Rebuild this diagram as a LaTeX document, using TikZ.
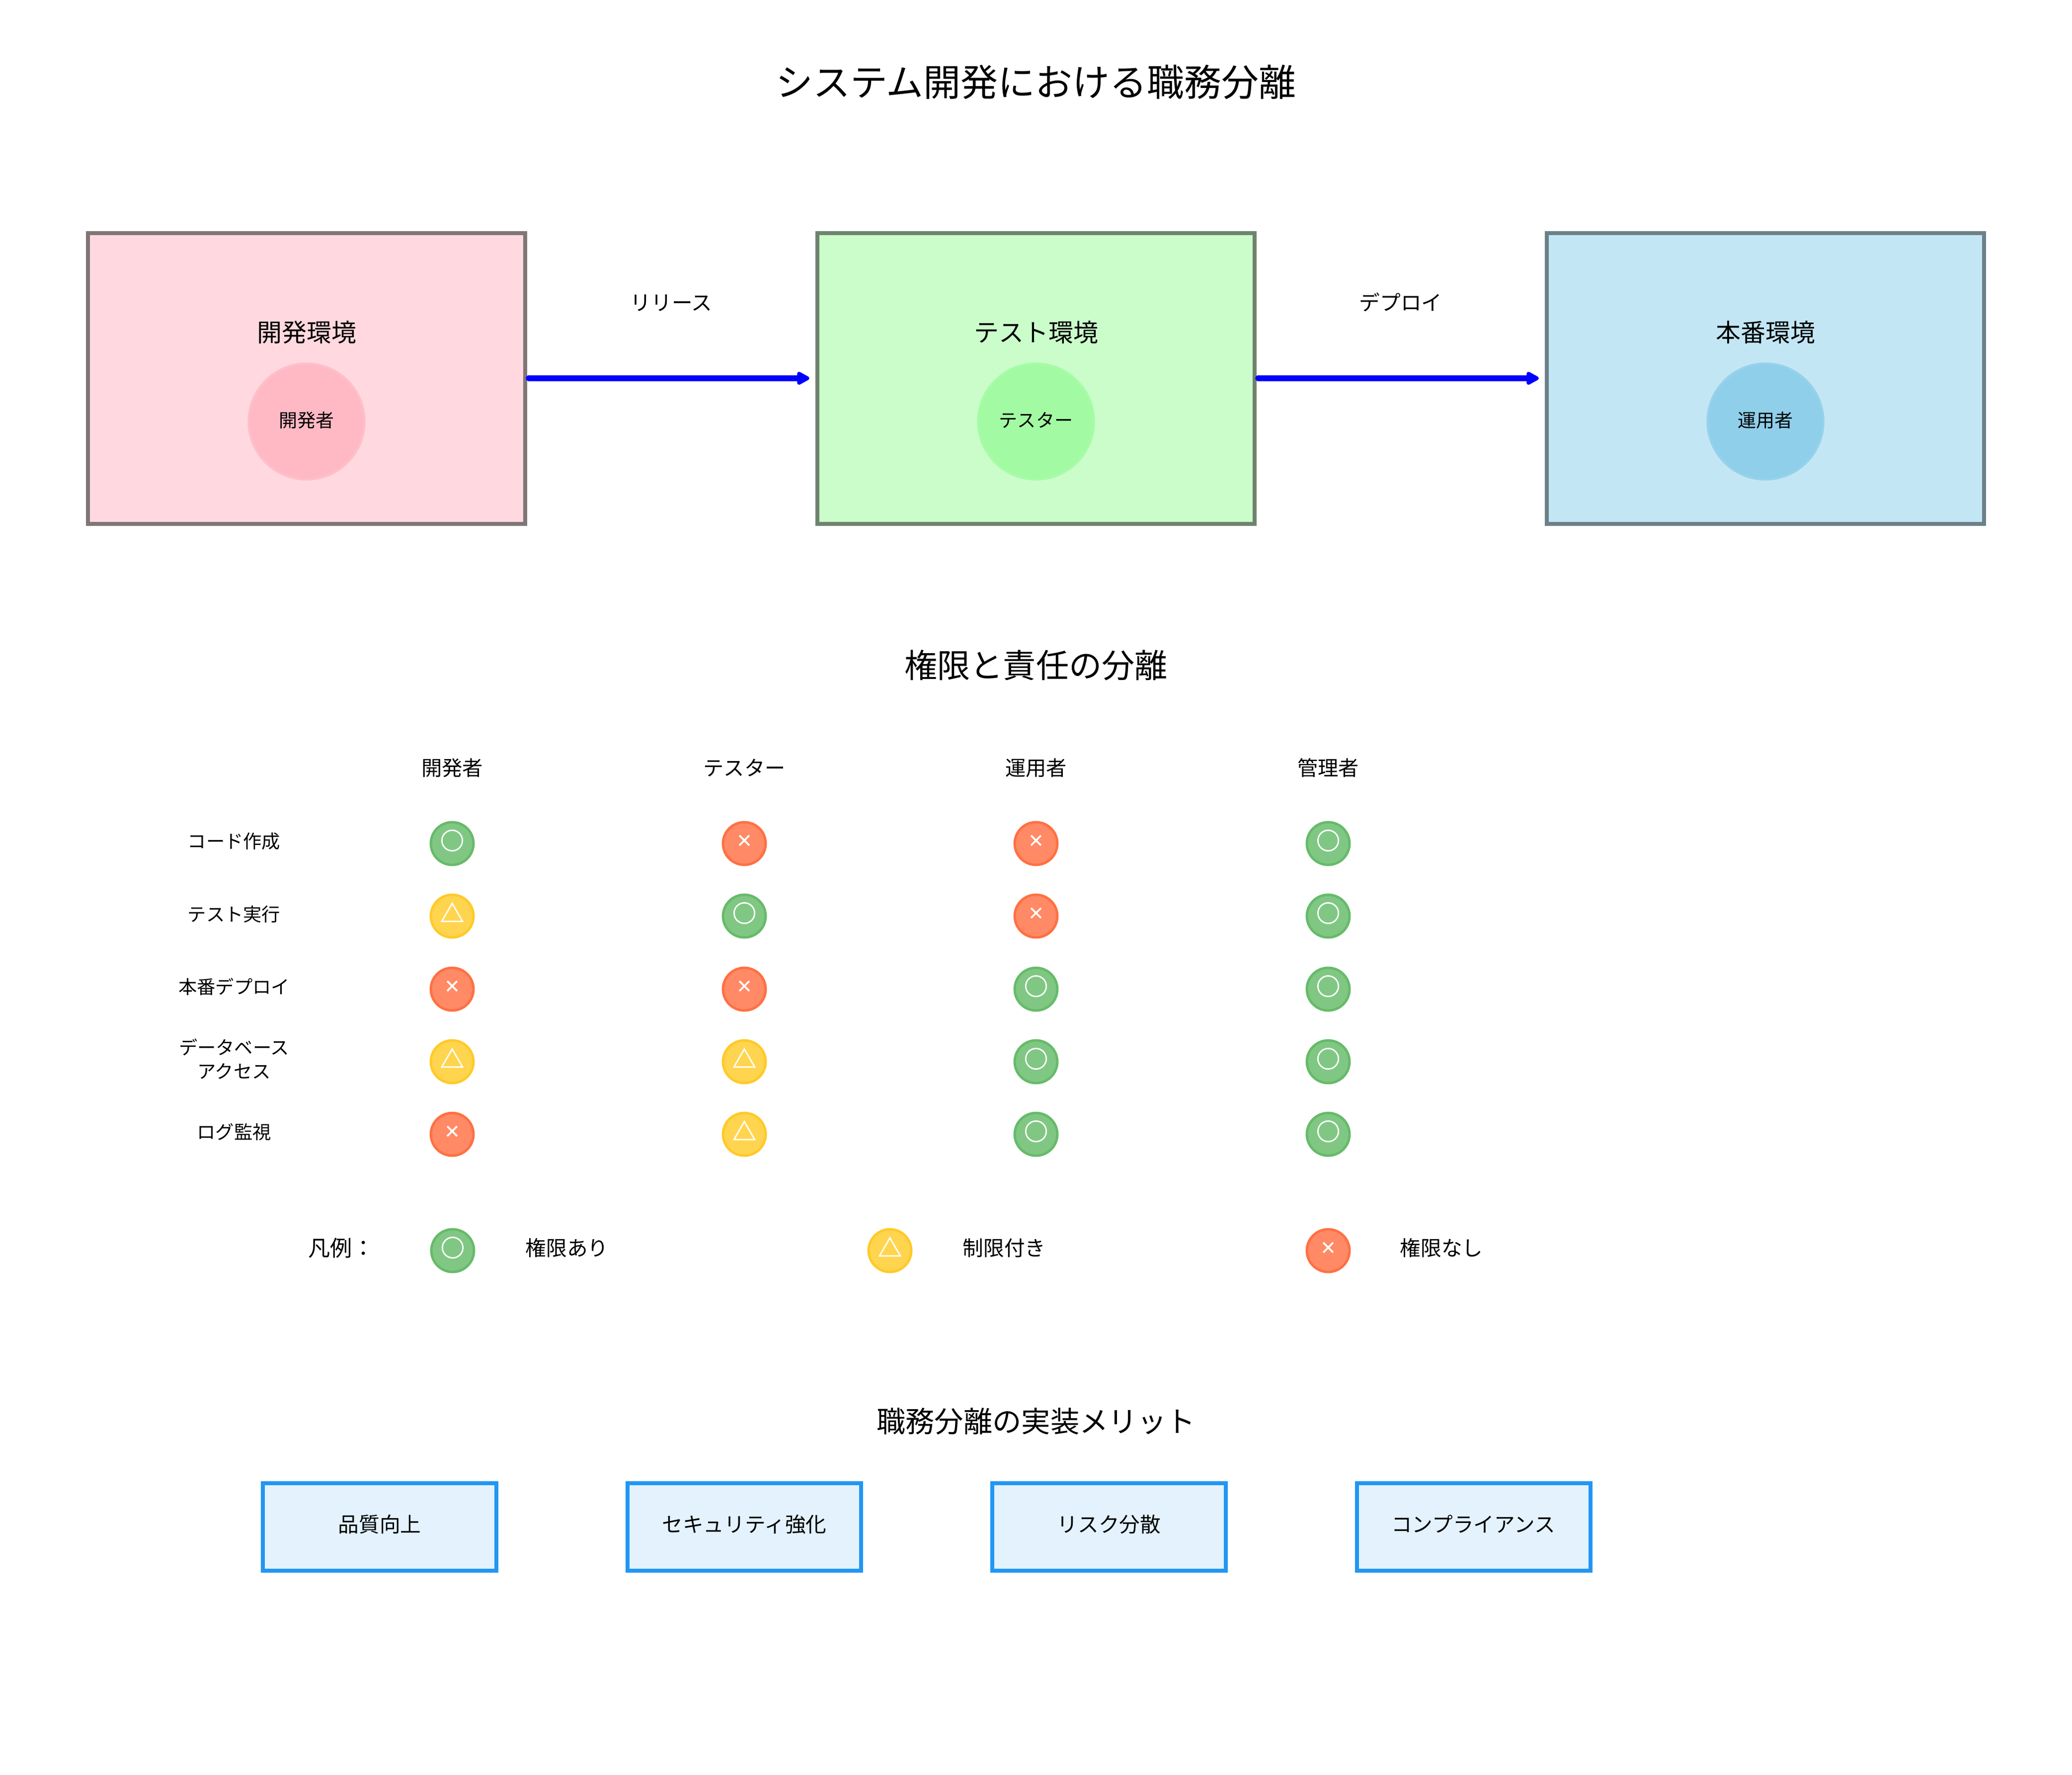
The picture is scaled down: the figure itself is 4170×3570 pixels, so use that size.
\documentclass[tikz,border=0pt]{standalone}
\usepackage{fontspec}
\setmainfont{Noto Sans CJK JP}
\usetikzlibrary{arrows.meta}
\definecolor{pinkF}{HTML}{FFD9DF}
\definecolor{pinkD}{HTML}{807577}
\definecolor{pinkC}{HTML}{FFB9C5}
\definecolor{pinkCD}{HTML}{FFBFCA}
\definecolor{greenF}{HTML}{CBFDCB}
\definecolor{greenD}{HTML}{6E846E}
\definecolor{greenC}{HTML}{A2FBA2}
\definecolor{greenCD}{HTML}{A8FBA8}
\definecolor{blueF}{HTML}{C3E6F5}
\definecolor{blueD}{HTML}{6D8087}
\definecolor{blueC}{HTML}{8FCFEA}
\definecolor{blueCD}{HTML}{97D2EB}
\definecolor{okF}{HTML}{81C784}
\definecolor{okD}{HTML}{66BB6A}
\definecolor{midF}{HTML}{FFD54F}
\definecolor{midD}{HTML}{FFCA28}
\definecolor{noF}{HTML}{FF8A65}
\definecolor{noD}{HTML}{FF7043}
\definecolor{benF}{HTML}{E3F2FD}
\definecolor{benD}{HTML}{2196F3}
\tikzset{
  txt/.style={font=\fontsize{#1pt}{#1pt}\selectfont,text height=#1pt*.88,text depth=#1pt*.12,inner sep=0pt,text=black},
  envbox/.style={rectangle,draw=#1D,fill=#1F,line width=1.92pt,minimum width=211pt,minimum height=140.4pt,inner sep=0pt},
  actor/.style={circle,draw=#1CD,fill=#1C,line width=1pt,minimum size=56pt,inner sep=0pt},
  flow/.style={draw=blue,line width=3pt,line cap=round,-{Triangle[length=7pt,width=7pt,line width=2.6pt,round]},shorten >=3pt,shorten <=0.96pt},
  cell/.style={circle,draw=#1D,fill=#1F,line width=1.2pt,minimum size=20.6pt,inner sep=0pt},
  sym/.style={txt=11.5,text=white},
  benefit/.style={rectangle,draw=benD,fill=benF,line width=1.92pt,minimum width=112.8pt,minimum height=42.24pt,inner sep=0pt},
  x=0.24pt,y=-0.24pt
}
\newcommand{\mkcell}[4]{% name, x, y, kind
  \node[cell=#4] (#1) at (#2,#3) {};
  \node[sym] (#1s) at (#2,#3-6) {\csname sym#4\endcsname};
}
\newcommand{\symok}{{\addfontfeature{FakeBold=2}○}}
\newcommand{\symmid}{{\addfontfeature{FakeBold=2}△}}
\newcommand{\symno}{\raisebox{1.6pt}{\fontsize{7.5pt}{7.5pt}\selectfont\addfontfeature{FakeBold=5}×}}
\begin{document}
\begin{tikzpicture}
\useasboundingbox (0,0) rectangle (4170,3570);
\node[txt=18] (title) at (2085,165) {システム開発における職務分離};

\node[envbox=pink] (dev) at (617,761) {};
\node[envbox=green] (test) at (2085,761) {};
\node[envbox=blue] (prod) at (3553,761) {};
\node[txt=12] (devl) at (617,668) {開発環境};
\node[txt=12] (testl) at (2085,668) {テスト環境};
\node[txt=12] (prodl) at (3553,668) {本番環境};
\node[actor=pink] (deva) at (617,848) {};
\node[actor=green] (testa) at (2085,848) {};
\node[actor=blue] (proda) at (3553,848) {};
\node[txt=8.9] (devat) at (617,845) {開発者};
\node[txt=8.9] (testat) at (2085,845) {テスター};
\node[txt=8.9] (prodat) at (3553,845) {運用者};
\draw[flow] (dev.east) -- (test.west);
\draw[flow] (test.east) -- (prod.west);
\node[txt=10] (rel) at (1351,609) {リリース};
\node[txt=10] (dep) at (2819,609) {デプロイ};

\node[txt=15.9] (sec2) at (2085,1338) {権限と責任の分離};
\node[txt=9.9] (h1) at (910,1545) {開発者};
\node[txt=9.9] (h2) at (1498,1545) {テスター};
\node[txt=9.9] (h3) at (2085,1545) {運用者};
\node[txt=9.9] (h4) at (2673,1545) {管理者};

\node[txt=8.95] (r1) at (471,1692) {コード作成};
\node[txt=8.95] (r2) at (471,1839) {テスト実行};
\node[txt=8.95] (r3) at (471,1985) {本番デプロイ};
\node[font=\fontsize{8.95pt}{11.5pt}\selectfont,align=center,inner sep=0pt] (r4) at (471,2130) {データベース\\アクセス};
\node[txt=8.95] (r5) at (471,2277) {ログ監視};

\mkcell{a1}{910}{1697}{ok}
\mkcell{b1}{1498}{1697}{no}
\mkcell{c1}{2085}{1697}{no}
\mkcell{d1}{2673}{1697}{ok}
\mkcell{a2}{910}{1843}{mid}
\mkcell{b2}{1498}{1843}{ok}
\mkcell{c2}{2085}{1843}{no}
\mkcell{d2}{2673}{1843}{ok}
\mkcell{a3}{910}{1990}{no}
\mkcell{b3}{1498}{1990}{no}
\mkcell{c3}{2085}{1990}{ok}
\mkcell{d3}{2673}{1990}{ok}
\mkcell{a4}{910}{2136}{mid}
\mkcell{b4}{1498}{2136}{mid}
\mkcell{c4}{2085}{2136}{ok}
\mkcell{d4}{2673}{2136}{ok}
\mkcell{a5}{910}{2282}{no}
\mkcell{b5}{1498}{2282}{mid}
\mkcell{c5}{2085}{2282}{ok}
\mkcell{d5}{2673}{2282}{ok}

\node[txt=10.6] (leg) at (687,2511) {凡例：};
\mkcell{l1}{911}{2516}{ok}
\mkcell{l2}{1791}{2516}{mid}
\mkcell{l3}{2673}{2516}{no}
\node[txt=10] (lt1) at (1141,2511) {権限あり};
\node[txt=10] (lt2) at (2021,2511) {制限付き};
\node[txt=10] (lt3) at (2901,2511) {権限なし};

\node[txt=14] (sec3) at (2085,2859) {職務分離の実装メリット};
\node[benefit] (m1) at (764,3072) {};
\node[benefit] (m2) at (1498,3072) {};
\node[benefit] (m3) at (2232,3072) {};
\node[benefit] (m4) at (2966,3072) {};
\node[txt=10] (m1t) at (764,3067) {品質向上};
\node[txt=10] (m2t) at (1498,3067) {セキュリティ強化};
\node[txt=10] (m3t) at (2232,3067) {リスク分散};
\node[txt=10] (m4t) at (2965,3067) {コンプライアンス};
\end{tikzpicture}
\end{document}
